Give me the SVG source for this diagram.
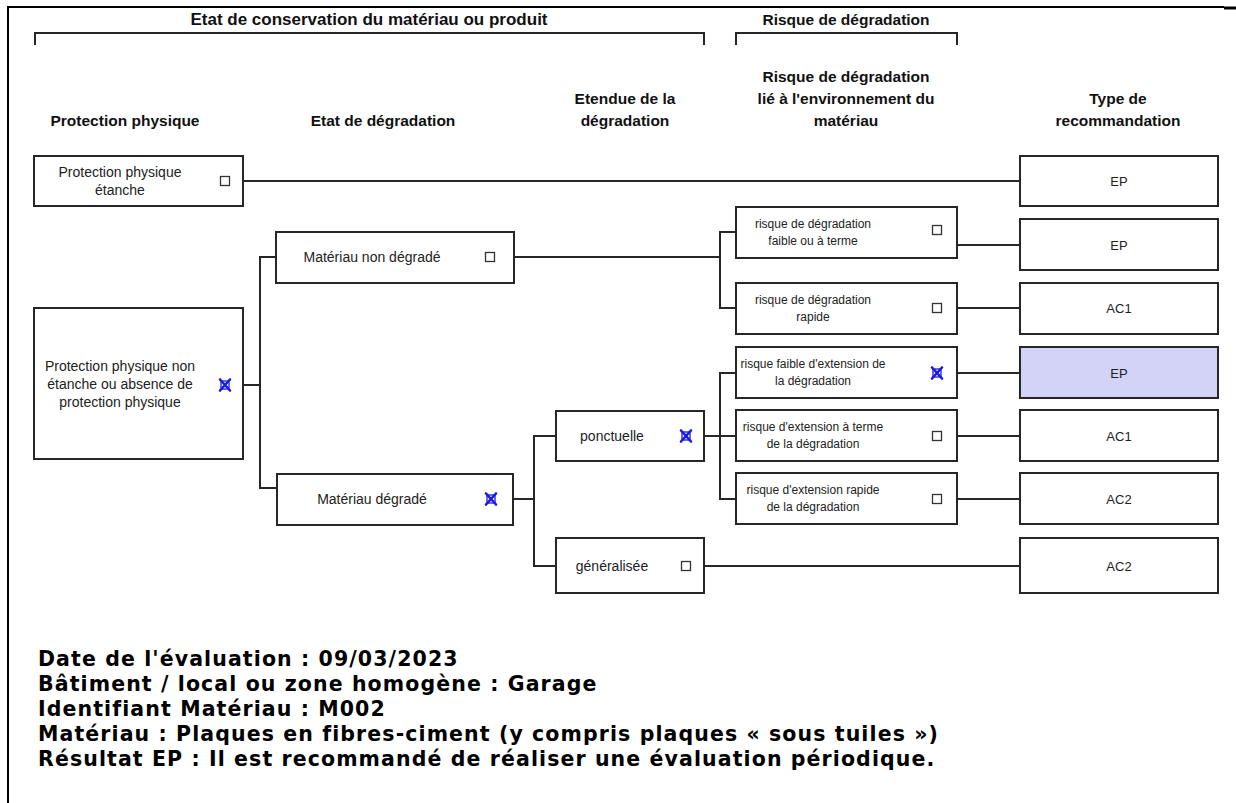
<svg xmlns="http://www.w3.org/2000/svg" width="1236" height="803" viewBox="0 0 1236 803">
<style>
.bx{fill:#fff;stroke:#262626;stroke-width:2}
.hl{fill:#d3d3f7;stroke:#262626;stroke-width:2}
.ln{fill:none;stroke:#262626;stroke-width:2}
.t{font-family:"Liberation Sans",Arial,sans-serif;font-size:14px;fill:#222;text-anchor:middle}
.ts{font-family:"Liberation Sans",Arial,sans-serif;font-size:12px;fill:#222;text-anchor:middle}
.tr{font-family:"Liberation Sans",Arial,sans-serif;font-size:13px;fill:#222;text-anchor:middle}
.h{font-family:"Liberation Sans",Arial,sans-serif;font-size:15.5px;font-weight:bold;fill:#111;text-anchor:middle}
.ft{font-family:"DejaVu Sans",Verdana,sans-serif;font-size:20.5px;font-weight:bold;fill:#000;letter-spacing:1.1px}
.cb{fill:#fff;stroke:#333;stroke-width:1.3}
.xm{fill:none;stroke:#1a1ae0;stroke-width:2.6;stroke-linecap:round}
.xs{fill:none;stroke:#1a1ae0;stroke-width:1.3}
</style>
<defs>
<g id="cbox"><rect class="cb" x="-4.5" y="-4.5" width="9" height="9"/></g>
<g id="xbox"><rect class="xs" x="-4" y="-4" width="8" height="8"/><path class="xm" d="M-5,-5.5 L5,5.5 M5,-5.5 L-5,5.5"/></g>
</defs>
<rect width="1236" height="803" fill="#fff"/>
<g id="frame">
<path d="M8,803 V7 H1224" fill="none" stroke="#000" stroke-width="2"/>
<path d="M1224,8 H1236" fill="none" stroke="#000" stroke-width="3"/>
</g>
<g id="headers">
<text class="h" x="369" y="25" style="font-size:17px">Etat de conservation du matériau ou produit</text>
<path class="ln" d="M35,45 V33 H704 V45"/>
<text class="h" x="846" y="25">Risque de dégradation</text>
<path class="ln" d="M736,45 V33 H957 V45"/>
<text class="h" x="125" y="126">Protection physique</text>
<text class="h" x="383" y="126">Etat de dégradation</text>
<text class="h" x="625" y="104">Etendue de la</text>
<text class="h" x="625" y="126">dégradation</text>
<text class="h" x="846" y="82">Risque de dégradation</text>
<text class="h" x="846" y="104">lié à l'environnement du</text>
<text class="h" x="846" y="126">matériau</text>
<text class="h" x="1118" y="104">Type de</text>
<text class="h" x="1118" y="126">recommandation</text>
</g>
<g id="connectors">
<path class="ln" d="M243,181 H1020"/>
<path class="ln" d="M243,385 H260 M276,257 H260 V488 H276"/>
<path class="ln" d="M514,257 H720 M736,232 H720 V308 H736"/>
<path class="ln" d="M513,499 H534 M556,436 H534 V566 H556"/>
<path class="ln" d="M704,436 H736 M736,373 H720 V499 H736"/>
<path class="ln" d="M704,566 H1020"/>
<path class="ln" d="M957,245 H1020"/>
<path class="ln" d="M957,308 H1020"/>
<path class="ln" d="M957,373 H1020"/>
<path class="ln" d="M957,436 H1020"/>
<path class="ln" d="M957,499 H1020"/>
</g>
<g id="n-pp-etanche">
<rect class="bx" x="34" y="156" width="209" height="50"/>
<text class="t" x="120" y="177">Protection physique</text>
<text class="t" x="120" y="195">étanche</text>
<use href="#cbox" x="225" y="181"/>
</g>
<g id="n-pp-non-etanche">
<rect class="bx" x="34" y="308" width="209" height="151"/>
<text class="t" x="120" y="371">Protection physique non</text>
<text class="t" x="120" y="389">étanche ou absence de</text>
<text class="t" x="120" y="407">protection physique</text>
<use href="#xbox" x="225" y="385"/>
</g>
<g id="n-non-degrade">
<rect class="bx" x="276" y="232" width="238" height="51"/>
<text class="t" x="372" y="262">Matériau non dégradé</text>
<use href="#cbox" x="490" y="257"/>
</g>
<g id="n-degrade">
<rect class="bx" x="277" y="474" width="236" height="51"/>
<text class="t" x="372" y="504">Matériau dégradé</text>
<use href="#xbox" x="491" y="499"/>
</g>
<g id="n-ponctuelle">
<rect class="bx" x="556" y="411" width="148" height="50"/>
<text class="t" x="612" y="441">ponctuelle</text>
<use href="#xbox" x="686" y="436"/>
</g>
<g id="n-generalisee">
<rect class="bx" x="556" y="538" width="148" height="55"/>
<text class="t" x="612" y="571">généralisée</text>
<use href="#cbox" x="686" y="566"/>
</g>
<g id="n-r1">
<rect class="bx" x="736" y="207" width="221" height="51"/>
<text class="ts" x="813" y="228">risque de dégradation</text>
<text class="ts" x="813" y="245">faible ou à terme</text>
<use href="#cbox" x="937" y="230"/>
</g>
<g id="n-r2">
<rect class="bx" x="736" y="283" width="221" height="51"/>
<text class="ts" x="813" y="304">risque de dégradation</text>
<text class="ts" x="813" y="321">rapide</text>
<use href="#cbox" x="937" y="308"/>
</g>
<g id="n-r3">
<rect class="bx" x="736" y="347" width="221" height="51"/>
<text class="ts" x="813" y="368">risque faible d'extension de</text>
<text class="ts" x="813" y="385">la dégradation</text>
<use href="#xbox" x="937" y="373"/>
</g>
<g id="n-r4">
<rect class="bx" x="736" y="410" width="221" height="51"/>
<text class="ts" x="813" y="431">risque d'extension à terme</text>
<text class="ts" x="813" y="448">de la dégradation</text>
<use href="#cbox" x="937" y="436"/>
</g>
<g id="n-r5">
<rect class="bx" x="736" y="473" width="221" height="51"/>
<text class="ts" x="813" y="494">risque d'extension rapide</text>
<text class="ts" x="813" y="511">de la dégradation</text>
<use href="#cbox" x="937" y="499"/>
</g>
<g id="n-rec1">
<rect class="bx" x="1020" y="156" width="198" height="50"/>
<text class="tr" x="1119" y="186">EP</text>
</g>
<g id="n-rec2">
<rect class="bx" x="1020" y="219" width="198" height="51"/>
<text class="tr" x="1119" y="250">EP</text>
</g>
<g id="n-rec3">
<rect class="bx" x="1020" y="283" width="198" height="51"/>
<text class="tr" x="1119" y="313">AC1</text>
</g>
<g id="n-rec4">
<rect class="hl" x="1020" y="347" width="198" height="51"/>
<text class="tr" x="1119" y="378">EP</text>
</g>
<g id="n-rec5">
<rect class="bx" x="1020" y="410" width="198" height="51"/>
<text class="tr" x="1119" y="441">AC1</text>
</g>
<g id="n-rec6">
<rect class="bx" x="1020" y="473" width="198" height="51"/>
<text class="tr" x="1119" y="504">AC2</text>
</g>
<g id="n-rec7">
<rect class="bx" x="1020" y="538" width="198" height="55"/>
<text class="tr" x="1119" y="571">AC2</text>
</g>
<g id="footer">
<text class="ft" x="38" y="666">Date de l'évaluation : 09/03/2023</text>
<text class="ft" x="38" y="691">Bâtiment / local ou zone homogène : Garage</text>
<text class="ft" x="38" y="716">Identifiant Matériau : M002</text>
<text class="ft" x="38" y="741">Matériau : Plaques en fibres-ciment (y compris plaques « sous tuiles »)</text>
<text class="ft" x="38" y="766">Résultat EP : Il est recommandé de réaliser une évaluation périodique.</text>
</g>
</svg>
